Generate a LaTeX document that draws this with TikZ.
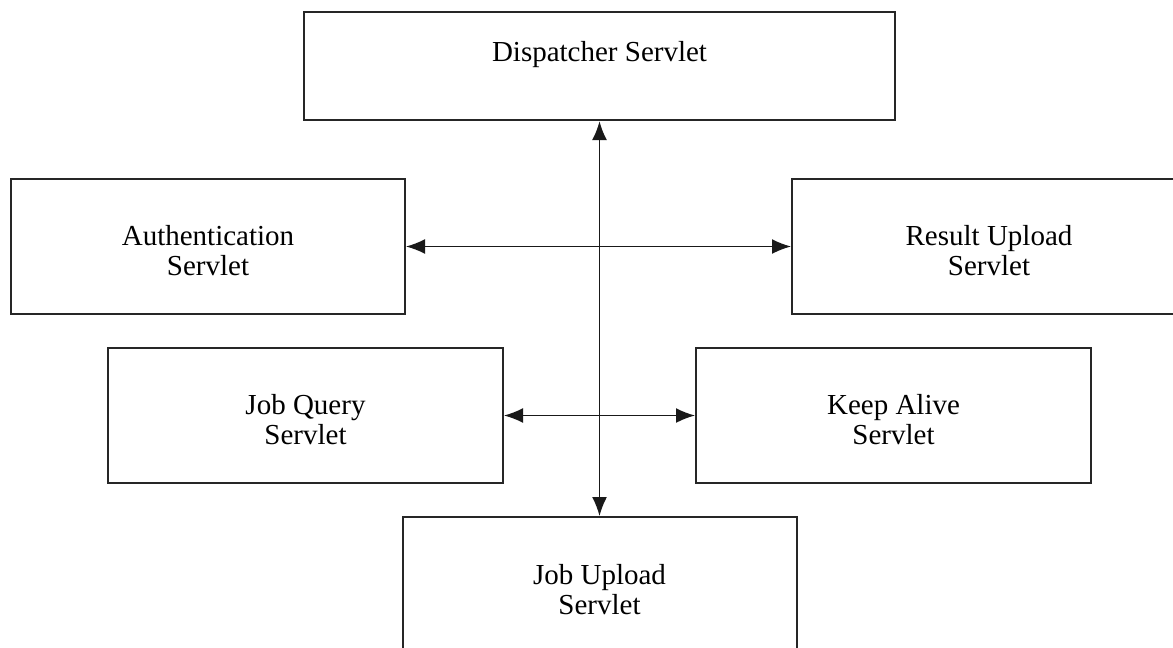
\documentclass[tikz,border=0pt]{standalone}
\usepackage{fontspec}
\setmainfont{Liberation Serif}
\usetikzlibrary{arrows.meta}
\begin{document}
\begin{tikzpicture}[x=0.5pt,y=-0.5pt,
  servlet/.style={draw=black!85, line width=1pt, fill=white, inner sep=0pt},
  caption/.style={align=center, inner sep=0pt, font=\fontsize{14.5}{15}\selectfont},
  link/.style={draw=black!90, line width=0.8pt,
    {Latex[length=9.5pt,width=7.5pt]}-{Latex[length=9.5pt,width=7.5pt]}}]
  \path[use as bounding box, clip] (0,0) rectangle (1173,648);
  \fill[white] (0,0) rectangle (1173,648);

  % servlet boxes
  \node[servlet, line width=1.2pt, minimum width=591*0.5pt, minimum height=108*0.5pt]
    (disp) at (599.5,66) {};
  \node[servlet, minimum width=394*0.5pt, minimum height=135*0.5pt]
    (auth) at (208,246.5) {};
  \node[servlet, minimum width=394*0.5pt, minimum height=135*0.5pt]
    (result) at (989,246.5) {};
  \node[servlet, minimum width=395*0.5pt, minimum height=135*0.5pt]
    (jobq) at (305.5,415.5) {};
  \node[servlet, minimum width=395*0.5pt, minimum height=135*0.5pt]
    (keep) at (893.5,415.5) {};
  \node[servlet, minimum width=394*0.5pt, minimum height=135*0.5pt]
    (jobup) at (599.5,584.5) {};

  % box captions
  \node[caption] (disptext) at (599.5,55) {Dispatcher Servlet};
  \node[caption] (authtext) at (208,251) {Authentication\\Servlet};
  \node[caption] (resulttext) at (989,251) {Result Upload\\Servlet};
  \node[caption] (jobqtext) at (305.5,420) {Job Query\\Servlet};
  \node[caption] (keeptext) at (893.5,420) {Keep Alive\\Servlet};
  \node[caption] (jobuptext) at (599.5,590) {Job Upload\\Servlet};

  % connectors
  \draw[link] (disp.south) -- (jobup.north);
  \draw[link] (auth.east) -- (result.west);
  \draw[link] (jobq.east) -- (keep.west);
\end{tikzpicture}
\end{document}
